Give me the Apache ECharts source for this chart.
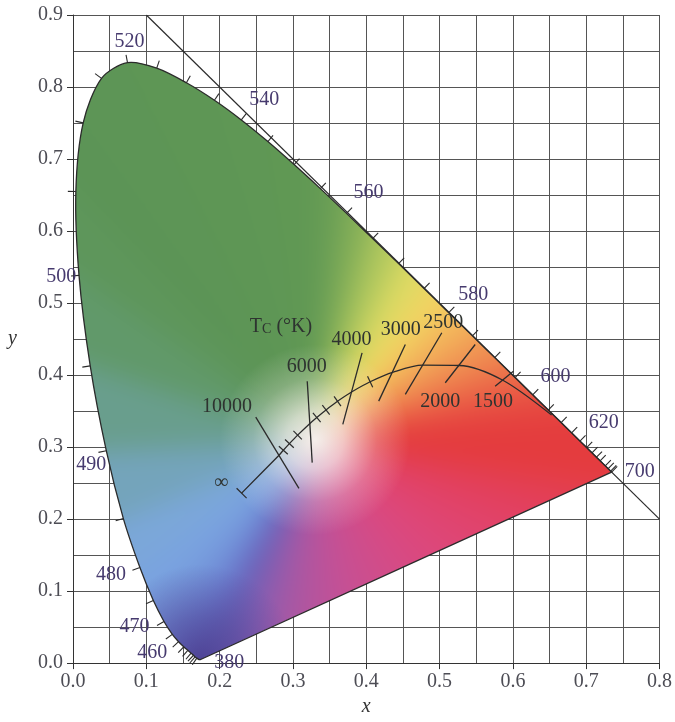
<!DOCTYPE html>
<html><head><meta charset="utf-8">
<script src="https://cdn.jsdelivr.net/npm/echarts@6/dist/echarts.min.js"></script>
<style>html,body{margin:0;padding:0;background:#fff}#c{width:675px;height:722px}</style>
</head><body><div id="c"></div><script>
// ---- spectral locus (CIE 1931 chromaticity, wavelength in nm) ----
const wavelengths = [380,390,400,410,420,430,435,440,445,450,455,460,465,470,475,480,485,490,495,500,505,510,515,520,525,530,535,540,545,550,555,560,565,570,575,580,585,590,595,600,605,610,615,620,625,630,635,640,645,650,655,660,665,670,680,690,700];
const locusX = [0.1741,0.1738,0.1733,0.1726,0.1714,0.1689,0.1665,0.1644,0.1611,0.1566,0.1510,0.1440,0.1355,0.1241,0.1096,0.0913,0.0687,0.0454,0.0235,0.0082,0.0039,0.0139,0.0389,0.0743,0.1142,0.1547,0.1929,0.2296,0.2658,0.3016,0.3374,0.3731,0.4087,0.4441,0.4788,0.5125,0.5448,0.5752,0.6029,0.6270,0.6482,0.6658,0.6801,0.6915,0.7006,0.7079,0.7140,0.7190,0.7230,0.7260,0.7283,0.7300,0.7311,0.7320,0.7334,0.7344,0.7347];
const locusY = [0.0050,0.0049,0.0048,0.0048,0.0051,0.0069,0.0085,0.0109,0.0138,0.0177,0.0227,0.0297,0.0399,0.0578,0.0868,0.1327,0.2007,0.2950,0.4127,0.5384,0.6548,0.7502,0.8120,0.8338,0.8262,0.8059,0.7816,0.7543,0.7243,0.6923,0.6589,0.6245,0.5896,0.5547,0.5202,0.4866,0.4544,0.4242,0.3965,0.3725,0.3514,0.3340,0.3197,0.3083,0.2993,0.2920,0.2859,0.2809,0.2770,0.2740,0.2717,0.2700,0.2689,0.2680,0.2666,0.2656,0.2653];
const tickWavelengths = [430,435,440,445,450,455,460,465,470,475,480,485,490,495,500,505,510,515,520,525,530,535,540,545,550,555,560,565,570,575,580,585,590,595,600,605,610,615,620,625,630,635,640,650,660,680,700];
// wavelength labels
const waveLabels = ['520','540','560','580','600','620','700','500','490','480','470','460','380'];
const waveLabelX = [0.077,0.261,0.403,0.546,0.658,0.724,0.773,-0.016,0.025,0.052,0.084,0.108,0.213];
const waveLabelY = [0.863,0.782,0.653,0.512,0.398,0.334,0.266,0.537,0.276,0.123,0.051,0.015,0.001];

// ---- Planckian locus ----
const planckT = ['∞',10000,9000,8000,7000,6000,5500,5000,4500,4000,3500,3000,2500,2000,1500,1000];
const planckX = [0.230,0.2807,0.2869,0.2952,0.3064,0.3221,0.3325,0.3451,0.3608,0.3805,0.4053,0.4369,0.4770,0.5267,0.5857,0.6528];
const planckY = [0.236,0.2884,0.2956,0.3048,0.3166,0.3318,0.3411,0.3516,0.3636,0.3768,0.3907,0.4041,0.4137,0.4133,0.3931,0.3444];
const planckTickT = [9000,8000,7000,5500,5000,4500,3500];
// isotemperature lines (end points)
const isoT  = [10000,6000,4000,3000,2500,2000,1500];
const isoX1 = [0.2493,0.3195,0.3943,0.4533,0.5031,0.5486,0.6007];
const isoY1 = [0.3416,0.3915,0.4309,0.4424,0.4587,0.4424,0.4054];
const isoX2 = [0.3082,0.3263,0.3680,0.4170,0.4533,0.5078,0.5758];
const isoY2 = [0.2427,0.2784,0.3315,0.3638,0.3731,0.3893,0.3846];
// temperature labels
const tempLabels = ['10000','6000','4000','3000','2500','2000','1500','∞'];
const tempLabelX = [0.210,0.319,0.380,0.447,0.505,0.501,0.573,0.202];
const tempLabelY = [0.356,0.412,0.449,0.463,0.473,0.363,0.363,0.251];
const tcTitleX = 0.2837, tcTitleY = 0.467;
// x + y = 1 line
const diagX = [0.1, 0.8];
const diagY = [0.9, 0.2];

const FONT = '"Liberation Serif","DejaVu Serif",serif';
const LINE = '#2b2b2b';

// colour styling of the gamut (by wavelength along the locus, and along the purple line)
const WL_STOPS = [
  [380,[96,96,182]],[430,[100,106,192]],[450,[106,122,205]],[465,[112,140,214]],[475,[120,158,222]],[482,[126,170,226]],
  [488,[115,163,190]],[492,[104,158,140]],[497,[96,152,100]],[505,[92,148,86]],[555,[96,152,84]],
  [562,[125,170,85]],[568,[185,205,95]],[574,[238,228,102]],[579,[244,205,95]],[584,[242,170,90]],
  [590,[238,135,80]],[596,[234,100,70]],[603,[230,72,64]],[612,[228,60,62]],[700,[228,60,62]]];
const PURPLE_STOPS = [[0,[228,60,62]],[0.2,[226,64,95]],[0.45,[220,72,125]],[0.65,[198,80,148]],[0.8,[165,88,165]],[0.9,[130,95,180]],[1,[96,96,182]]];

function lerpColor(stops, v){
  if (v <= stops[0][0]) return stops[0][1];
  for (let i=1;i<stops.length;i++){
    if (v <= stops[i][0]){
      const a=stops[i-1], b=stops[i], t=(v-a[0])/(b[0]-a[0]);
      return a[1].map((c,j)=>Math.round(c+(b[1][j]-c)*t));
    }
  }
  return stops[stops.length-1][1];
}

function fillRender(params, api){
  const P = (x,y)=>api.coord([x,y]);
  const poly = locusX.map((x,i)=>P(x, locusY[i]));
  const unit = P(1,0)[0]-P(0,0)[0];
  let minX=Infinity,minY=Infinity,maxX=-Infinity,maxY=-Infinity;
  poly.forEach(p=>{minX=Math.min(minX,p[0]);minY=Math.min(minY,p[1]);maxX=Math.max(maxX,p[0]);maxY=Math.max(maxY,p[1]);});
  const pad=40, ox=Math.floor(minX)-pad, oy=Math.floor(minY)-pad;
  const w=Math.ceil(maxX)+pad-ox, h=Math.ceil(maxY)+pad-oy;
  const A=document.createElement('canvas'); A.width=w; A.height=h; const a=A.getContext('2d');
  const Wp=P(0.33,0.31), wx=Wp[0]-ox, wy=Wp[1]-oy;
  const bnd=[];
  wavelengths.forEach((wl,i)=>bnd.push([poly[i][0]-ox, poly[i][1]-oy, lerpColor(WL_STOPS, wl)]));
  const pE=poly[poly.length-1], pS=poly[0], NS=24;
  for (let k=1;k<NS;k++){ const t=k/NS; bnd.push([pE[0]+(pS[0]-pE[0])*t-ox, pE[1]+(pS[1]-pE[1])*t-oy, lerpColor(PURPLE_STOPS,t)]); }
  const n=bnd.length, ext=2.2;
  for (let i=0;i<n;i++){
    const b0=bnd[i], b1=bnd[(i+1)%n];
    const c=b0[2].map((v,j)=>Math.round((v+b1[2][j])/2));
    const col='rgb('+c.join(',')+')';
    a.beginPath(); a.moveTo(wx,wy);
    a.lineTo(wx+(b0[0]-wx)*ext, wy+(b0[1]-wy)*ext);
    a.lineTo(wx+(b1[0]-wx)*ext, wy+(b1[1]-wy)*ext);
    a.closePath(); a.fillStyle=col; a.strokeStyle=col; a.lineWidth=1.5; a.fill(); a.stroke();
  }
  const B=document.createElement('canvas'); B.width=w; B.height=h; const b=B.getContext('2d');
  b.filter='blur(13px)'; b.drawImage(A,0,0); b.filter='none';
  // desaturated centre
  const g=b.createRadialGradient(wx,wy,0,wx,wy,0.13*unit);
  g.addColorStop(0,'rgba(248,242,238,0.97)'); g.addColorStop(0.3,'rgba(248,242,238,0.72)');
  g.addColorStop(0.65,'rgba(248,242,238,0.25)'); g.addColorStop(1,'rgba(248,242,238,0)');
  b.fillStyle=g; b.fillRect(0,0,w,h);
  // deep violet corner
  const cx=poly[0][0]-ox, cy=poly[0][1]-oy;
  const g2=b.createRadialGradient(cx,cy,0,cx,cy,0.13*unit);
  g2.addColorStop(0,'rgba(76,64,146,0.9)'); g2.addColorStop(0.45,'rgba(80,70,152,0.55)'); g2.addColorStop(1,'rgba(84,76,160,0)');
  b.fillStyle=g2; b.fillRect(0,0,w,h);
  const local=poly.map(p=>[p[0]-ox,p[1]-oy]);
  b.globalCompositeOperation='destination-in';
  b.beginPath();
  try {
    const el=new echarts.graphic.Polygon({shape:{points:local,smooth:0.3}});
    el.buildPath(b, el.shape);
  } catch(e) {
    local.forEach((p,i)=>i?b.lineTo(p[0],p[1]):b.moveTo(p[0],p[1]));
  }
  b.closePath(); b.fillStyle='#000'; b.fill();
  b.globalCompositeOperation='source-over';
  return {type:'group', children:[
    {type:'image', style:{image:B, x:ox, y:oy, width:w, height:h}},
    {type:'polygon', shape:{points:poly, smooth:0.3}, style:{fill:null, stroke:LINE, lineWidth:1.3}}
  ]};
}

function locusTickRender(params, api){
  const P = (x,y)=>api.coord([x,y]);
  const wp = P(0.33,0.33);
  const children = [];
  tickWavelengths.forEach(w=>{
    const i = wavelengths.indexOf(w);
    const p = P(locusX[i], locusY[i]);
    const a = P(locusX[Math.max(0,i-1)], locusY[Math.max(0,i-1)]);
    const b = P(locusX[Math.min(wavelengths.length-1,i+1)], locusY[Math.min(wavelengths.length-1,i+1)]);
    let tx=b[0]-a[0], ty=b[1]-a[1]; const L=Math.hypot(tx,ty)||1; tx/=L; ty/=L;
    let nx=-ty, ny=tx;
    if ((p[0]-wp[0])*nx + (p[1]-wp[1])*ny < 0){nx=-nx; ny=-ny;}
    const len = 8;
    children.push({type:'line', shape:{x1:p[0],y1:p[1],x2:p[0]+nx*len,y2:p[1]+ny*len}, style:{stroke:LINE,lineWidth:1.1}});
  });
  return {type:'group', children};
}

function planckTickRender(params, api){
  const P = (x,y)=>api.coord([x,y]);
  const children = [];
  planckTickT.forEach(t=>{
    const i = planckT.indexOf(t);
    const p = P(planckX[i], planckY[i]);
    const a = P(planckX[i-1], planckY[i-1]);
    const b = P(planckX[i+1], planckY[i+1]);
    let tx=b[0]-a[0], ty=b[1]-a[1]; const L=Math.hypot(tx,ty); tx/=L; ty/=L;
    const nx=-ty, ny=tx, h=6;
    children.push({type:'line', shape:{x1:p[0]-nx*h,y1:p[1]-ny*h,x2:p[0]+nx*h,y2:p[1]+ny*h}, style:{stroke:LINE,lineWidth:1.2}});
  });
  const p0 = P(planckX[0], planckY[0]), p1 = P(planckX[1], planckY[1]);
  let tx=p1[0]-p0[0], ty=p1[1]-p0[1]; const L=Math.hypot(tx,ty); tx/=L; ty/=L;
  children.push({type:'line', shape:{x1:p0[0]+ty*7,y1:p0[1]-tx*7,x2:p0[0]-ty*7,y2:p0[1]+tx*7}, style:{stroke:LINE,lineWidth:1.2}});
  isoT.forEach((t,i)=>{
    const a = P(isoX1[i], isoY1[i]), b = P(isoX2[i], isoY2[i]);
    children.push({type:'line', shape:{x1:a[0],y1:a[1],x2:b[0],y2:b[1]}, style:{stroke:LINE,lineWidth:1.3}});
  });
  return {type:'group', children};
}

function labelRender(params, api){
  const P = (x,y)=>api.coord([x,y]);
  const children = [];
  waveLabels.forEach((s,i)=>{
    const p = P(waveLabelX[i], waveLabelY[i]);
    children.push({type:'text', x:p[0], y:p[1], style:{text:s, fill:'#463a6e', fontSize:20, fontFamily:FONT, align:'center', verticalAlign:'middle'}});
  });
  tempLabels.forEach((s,i)=>{
    const p = P(tempLabelX[i], tempLabelY[i]);
    children.push({type:'text', x:p[0], y:p[1], style:{text:s, fill:'#2e3330', fontSize:20, fontFamily:FONT, align:'center', verticalAlign:'middle'}});
  });
  const q = P(tcTitleX, tcTitleY);
  children.push({type:'text', x:q[0], y:q[1], style:{text:'{t|T}{s|C}{t| (°K)}', fill:'#2e3330', fontFamily:FONT, align:'center', verticalAlign:'middle',
    rich:{t:{fontSize:20,fontFamily:FONT,fill:'#2e3330',verticalAlign:'bottom'}, s:{fontSize:14,fontFamily:FONT,fill:'#2e3330',verticalAlign:'bottom'}}}});
  return {type:'group', children};
}

const axisCommon = {
  type:'value',
  axisLine:{show:true,onZero:false,lineStyle:{color:'#333',width:1}},
  axisTick:{show:true,length:6,lineStyle:{color:'#333'}},
  splitLine:{show:true,lineStyle:{color:'#555',width:1}},
  minorTick:{show:false,splitNumber:2},
  minorSplitLine:{show:true,lineStyle:{color:'#555',width:1}},
};

const chart = echarts.init(document.getElementById('c'), null, {renderer:'canvas'});
chart.setOption({
  animation:false,
  backgroundColor:'#fff',
  grid:{left:73,right:14,top:15,bottom:58},
  xAxis:Object.assign({}, axisCommon, {min:0,max:0.8,interval:0.1,
    axisLabel:{formatter:v=>v.toFixed(1), color:'#4d4d55', fontSize:20, fontFamily:FONT, margin:9},
    name:'x', nameLocation:'middle', nameGap:28, nameTextStyle:{fontStyle:'italic', fontSize:20, fontFamily:FONT, color:'#333'}}),
  yAxis:Object.assign({}, axisCommon, {min:0,max:0.9,interval:0.1,
    axisLabel:{formatter:v=>v.toFixed(1), color:'#4d4d55', fontSize:20, fontFamily:FONT, margin:10},
    name:'y', nameLocation:'middle', nameGap:56, nameRotate:0, nameTextStyle:{fontStyle:'italic', fontSize:20, fontFamily:FONT, color:'#333'}}),
  series:[
    {type:'custom', coordinateSystem:'cartesian2d', data:[[0,0]], renderItem:fillRender, z:2, silent:true},
    {type:'custom', coordinateSystem:'cartesian2d', data:[[0,0]], renderItem:locusTickRender, z:3, silent:true},
    {type:'line', data:diagX.map((x,i)=>[x,diagY[i]]), showSymbol:false, lineStyle:{color:LINE,width:1.2}, z:3, silent:true},
    {type:'line', data:planckX.map((x,i)=>[x,planckY[i]]), showSymbol:false, smooth:0.3, lineStyle:{color:LINE,width:1.3}, z:4, silent:true},
    {type:'custom', coordinateSystem:'cartesian2d', data:[[0,0]], renderItem:planckTickRender, z:4, silent:true},
    {type:'custom', coordinateSystem:'cartesian2d', data:[[0,0]], renderItem:labelRender, z:5, silent:true}
  ]
});
</script></body></html>
